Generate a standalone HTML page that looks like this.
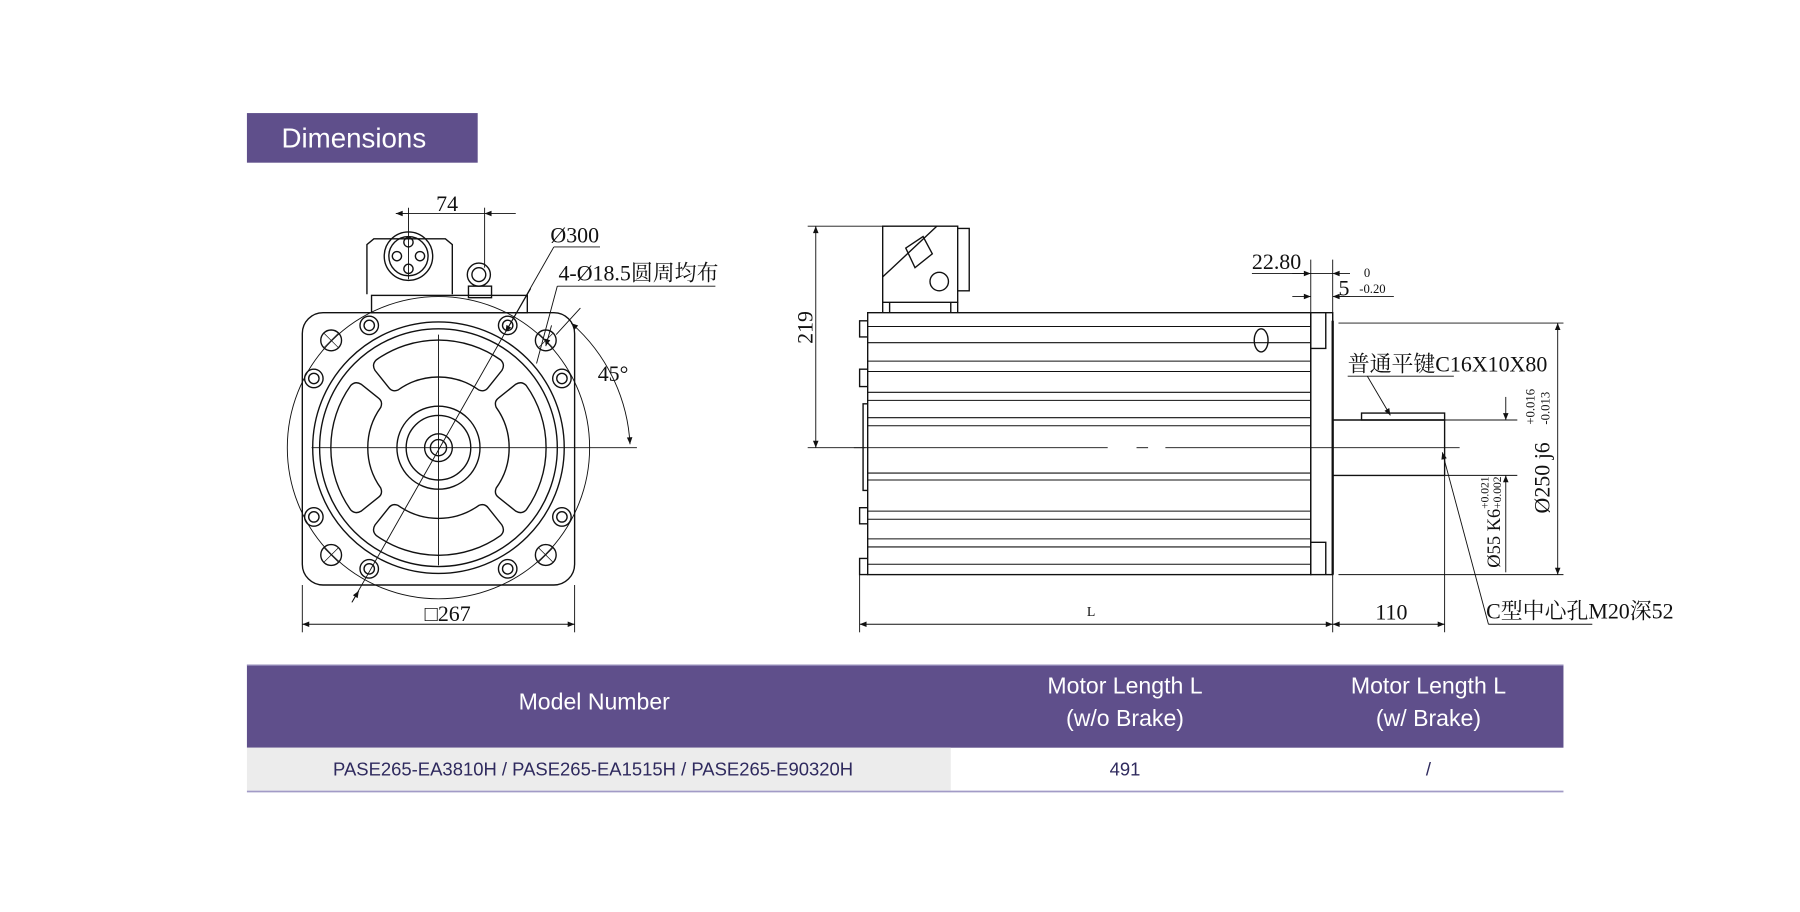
<!DOCTYPE html>
<html><head><meta charset="utf-8"><style>
html,body{margin:0;padding:0;background:#fff;}
svg{display:block;}
.t{font-family:"Liberation Serif","Noto Serif CJK SC","Noto Sans CJK SC",serif;fill:#111;}
.s{font-family:"Liberation Sans",sans-serif;}
</style></head><body>
<svg width="1800" height="912" viewBox="0 0 1560 790.4" xmlns="http://www.w3.org/2000/svg">
<defs>
<marker id="a" viewBox="0 0 10 10" refX="10" refY="5" markerWidth="9" markerHeight="6" orient="auto-start-reverse" markerUnits="userSpaceOnUse"><path d="M0,1 L10,5 L0,9 z" fill="#111"/></marker>
<path id="w" d="M-54,-76 A93,93 0 0 1 54,-76 Q58,-72 55,-67 L43,-52 Q40,-48 35,-50 A60,60 0 0 0 -35,-50 Q-40,-48 -43,-52 L-55,-67 Q-58,-72 -54,-76 Z"/>
</defs>
<rect width="1560" height="790.4" fill="#fff"/>
<rect x="214" y="98" width="200" height="43" fill="#5f4f8b"/>
<text x="244" y="128" class="s" font-size="24" fill="#fff">Dimensions</text>

<g stroke="#111" fill="none" stroke-width="1.2">
<path d="M318,255 V212 L324,207 H386 L392,212 V255"/>
<circle cx="354" cy="222" r="21"/><circle cx="354" cy="222" r="17"/>
<circle cx="354" cy="210" r="4"/><circle cx="344" cy="222" r="4"/><circle cx="364" cy="222" r="4"/><circle cx="354" cy="233" r="4"/>
<circle cx="415" cy="238" r="10"/><circle cx="415" cy="238" r="6"/>
<rect x="406" y="248" width="20" height="10"/>
<rect x="322" y="256" width="135" height="15"/>
<line x1="354" y1="180" x2="354" y2="242" stroke-width="0.8"/>
<line x1="420" y1="180" x2="420" y2="232" stroke-width="0.8"/>
<line x1="343" y1="185" x2="354" y2="185" marker-start="url(#a)" stroke-width="0.8"/>
<line x1="354" y1="185" x2="420" y2="185" stroke-width="0.8"/>
<line x1="420" y1="185" x2="447" y2="185" marker-start="url(#a)" stroke-width="0.8"/>
<rect x="262" y="271" width="236" height="236" rx="18"/>
<circle cx="380" cy="388" r="131" stroke-width="0.8"/>
<circle cx="380" cy="388" r="109"/>
<circle cx="380" cy="388" r="103"/>
<g transform="translate(380,388)">
<use href="#w"/><use href="#w" transform="rotate(90)"/><use href="#w" transform="rotate(180)"/><use href="#w" transform="rotate(270)"/>
</g>
<circle cx="380" cy="388" r="36"/><circle cx="380" cy="388" r="28"/>
<circle cx="380" cy="388" r="12"/><circle cx="380" cy="388" r="7"/>
<g>
<circle cx="320" cy="282" r="8"/><circle cx="320" cy="282" r="4.5"/>
<circle cx="440" cy="282" r="8"/><circle cx="440" cy="282" r="4.5"/>
<circle cx="272" cy="328" r="8"/><circle cx="272" cy="328" r="4.5"/>
<circle cx="487" cy="328" r="8"/><circle cx="487" cy="328" r="4.5"/>
<circle cx="272" cy="448" r="8"/><circle cx="272" cy="448" r="4.5"/>
<circle cx="487" cy="448" r="8"/><circle cx="487" cy="448" r="4.5"/>
<circle cx="320" cy="493" r="8"/><circle cx="320" cy="493" r="4.5"/>
<circle cx="440" cy="493" r="8"/><circle cx="440" cy="493" r="4.5"/>
<circle cx="287" cy="295" r="9"/><path d="M281,289 L293,301 M293,289 L281,301" stroke-width="0.6"/>
<circle cx="473" cy="295" r="9"/><path d="M467,289 L479,301 M479,289 L467,301" stroke-width="0.6"/>
<circle cx="287" cy="481" r="9"/><path d="M281,475 L293,487 M293,475 L281,487" stroke-width="0.6"/>
<circle cx="473" cy="481" r="9"/><path d="M467,475 L479,487 M479,475 L467,487" stroke-width="0.6"/>
</g>
<line x1="270" y1="388" x2="552" y2="388" stroke-width="0.8"/>
<line x1="380" y1="290" x2="380" y2="490" stroke-width="0.8"/>
<line x1="305" y1="522" x2="480" y2="214" stroke-width="0.8"/>
<line x1="311" y1="512" x2="305" y2="522" marker-start="url(#a)" stroke-width="0.8"/>
<line x1="438" y1="288" x2="460" y2="250" marker-start="url(#a)" stroke-width="0.8"/>
<line x1="480" y1="214" x2="520" y2="214" stroke-width="0.8"/>
<line x1="465" y1="315" x2="483" y2="248" stroke-width="0.8"/>
<line x1="473" y1="300" x2="478" y2="282" marker-start="url(#a)" stroke-width="0.8"/>
<line x1="483" y1="248" x2="620" y2="248" stroke-width="0.8"/>
<line x1="482" y1="290" x2="503" y2="267" stroke-width="0.8"/>
<path d="M495,280 A150,150 0 0 1 546,385" stroke-width="0.8" marker-start="url(#a)" marker-end="url(#a)"/>
<line x1="262" y1="507" x2="262" y2="548" stroke-width="0.8"/>
<line x1="498" y1="507" x2="498" y2="548" stroke-width="0.8"/>
<line x1="262" y1="541" x2="498" y2="541" stroke-width="0.8" marker-start="url(#a)" marker-end="url(#a)"/>

<line x1="700" y1="196" x2="770" y2="196" stroke-width="0.8"/>
<line x1="700" y1="388" x2="750" y2="388" stroke-width="0.8"/>
<line x1="707" y1="196" x2="707" y2="388" stroke-width="0.8" marker-start="url(#a)" marker-end="url(#a)"/>
<path d="M765,196 H830 V262 H765 Z"/>
<path d="M830,198 H840 V252 H830"/>
<path d="M765,240 L812,196 M785,215 L800,205 L808,220 L793,232 Z M765,262 V271 M830,262 V271 M771,262 V271 M824,262 V271"/>
<circle cx="814" cy="244" r="8"/>
<rect x="752" y="271" width="384" height="227"/>
<path d="M752,278 H745 V292 H752 M752,320 H745 V335 H752 M752,440 H745 V454 H752 M752,484 H745 V498 H752 M752,350 H748 V425 H752"/>
<g stroke-width="0.9">
<line x1="752" y1="283" x2="1136" y2="283"/><line x1="752" y1="297" x2="1136" y2="297"/>
<line x1="752" y1="313" x2="1136" y2="313"/><line x1="752" y1="322" x2="1136" y2="322"/>
<line x1="752" y1="340" x2="1136" y2="340"/><line x1="752" y1="347" x2="1136" y2="347"/>
<line x1="752" y1="362" x2="1136" y2="362"/><line x1="752" y1="369" x2="1136" y2="369"/>
<line x1="752" y1="410" x2="1136" y2="410"/><line x1="752" y1="416" x2="1136" y2="416"/>
<line x1="752" y1="443" x2="1136" y2="443"/><line x1="752" y1="450" x2="1136" y2="450"/>
<line x1="752" y1="467" x2="1136" y2="467"/><line x1="752" y1="474" x2="1136" y2="474"/>
<line x1="752" y1="489" x2="1136" y2="489"/>
</g>
<ellipse cx="1093" cy="295" rx="6" ry="10"/>
<rect x="1136" y="271" width="19" height="227"/>
<path d="M1136,302 H1149 V271 M1136,470 H1149 V498"/>
<line x1="1155" y1="278" x2="1155" y2="498" stroke-width="2"/>
<path d="M1155,364 H1252 V412 H1155"/>
<rect x="1180" y="358" width="72" height="6"/>
<line x1="740" y1="388" x2="960" y2="388" stroke-width="0.8"/>
<line x1="985" y1="388" x2="995" y2="388" stroke-width="0.8"/>
<line x1="1010" y1="388" x2="1265" y2="388" stroke-width="0.8"/>
<line x1="1160" y1="280" x2="1355" y2="280" stroke-width="0.8"/>
<line x1="1160" y1="498" x2="1355" y2="498" stroke-width="0.8"/>
<line x1="1350" y1="280" x2="1350" y2="498" stroke-width="0.8" marker-start="url(#a)" marker-end="url(#a)"/>
<line x1="1252" y1="364" x2="1315" y2="364" stroke-width="0.8"/>
<line x1="1252" y1="412" x2="1315" y2="412" stroke-width="0.8"/>
<line x1="1305" y1="344" x2="1305" y2="364" stroke-width="0.8" marker-end="url(#a)"/>
<line x1="1305" y1="496" x2="1305" y2="412" stroke-width="0.8" marker-end="url(#a)"/>
<line x1="1136" y1="225" x2="1136" y2="271" stroke-width="0.8"/>
<line x1="1155" y1="225" x2="1155" y2="278" stroke-width="0.8"/>
<line x1="1085" y1="237" x2="1155" y2="237" stroke-width="0.8"/>
<line x1="1120" y1="237" x2="1136" y2="237" marker-end="url(#a)" stroke-width="0.8"/>
<line x1="1170" y1="237" x2="1155" y2="237" marker-end="url(#a)" stroke-width="0.8"/>
<line x1="1120" y1="257" x2="1136" y2="257" marker-end="url(#a)" stroke-width="0.8"/>
<line x1="1170" y1="257" x2="1155" y2="257" marker-end="url(#a)" stroke-width="0.8"/>
<line x1="1155" y1="257" x2="1208" y2="257" stroke-width="0.8"/>
<line x1="1168" y1="326" x2="1260" y2="326" stroke-width="0.8"/>
<line x1="1185" y1="326" x2="1205" y2="360" marker-end="url(#a)" stroke-width="0.8"/>
<line x1="1290" y1="541" x2="1250" y2="392" marker-end="url(#a)" stroke-width="0.8"/>
<line x1="1290" y1="541" x2="1380" y2="541" stroke-width="0.8"/>
<line x1="745" y1="498" x2="745" y2="548" stroke-width="0.8"/>
<line x1="1155" y1="498" x2="1155" y2="548" stroke-width="0.8"/>
<line x1="1252" y1="412" x2="1252" y2="548" stroke-width="0.8"/>
<line x1="745" y1="541" x2="1155" y2="541" stroke-width="0.8" marker-start="url(#a)" marker-end="url(#a)"/>
<line x1="1155" y1="541" x2="1252" y2="541" stroke-width="0.8" marker-start="url(#a)" marker-end="url(#a)"/>
</g>

<g class="t">
<text x="378" y="183" font-size="19">74</text>
<text x="477" y="210" font-size="19">Ø300</text>
<text x="484" y="243" font-size="19">4-Ø18.5圆周均布</text>
<text x="518" y="330" font-size="19">45°</text>
<text x="368" y="538" font-size="19">□267</text>
<text transform="translate(704,298) rotate(-90)" font-size="19">219</text>
<text x="1085" y="233" font-size="19">22.80</text>
<text x="1160" y="256" font-size="19">5</text>
<text x="1182" y="240" font-size="11">0</text>
<text x="1178" y="254" font-size="11">-0.20</text>
<text x="1168" y="322" font-size="19">普通平键C16X10X80</text>
<text transform="translate(1343,445) rotate(-90)" font-size="19">Ø250  j6</text>
<text transform="translate(1330,368) rotate(-90)" font-size="11">+0.016</text>
<text transform="translate(1343,368) rotate(-90)" font-size="11">-0.013</text>
<text transform="translate(1300,492) rotate(-90)" font-size="16">Ø55  K6</text>
<text transform="translate(1290,441) rotate(-90)" font-size="10">+0.021</text>
<text transform="translate(1301,441) rotate(-90)" font-size="10">+0.002</text>
<text x="942" y="534" font-size="12">L</text>
<text x="1192" y="537" font-size="19">110</text>
<text x="1288" y="536" font-size="19">C型中心孔M20深52</text>
</g>

<rect x="214" y="576" width="1141" height="72" fill="#5f4f8b"/>
<line x1="214" y1="576.5" x2="1355" y2="576.5" stroke="#9b93c0" stroke-width="1"/>
<rect x="214" y="648" width="610" height="37" fill="#ececec"/>
<line x1="214" y1="686" x2="1355" y2="686" stroke="#a29bc6" stroke-width="1.5"/>
<g class="s" fill="#fff" font-size="20" text-anchor="middle">
<text x="515" y="615">Model Number</text>
<text x="975" y="601">Motor Length L</text>
<text x="975" y="629">(w/o Brake)</text>
<text x="1238" y="601">Motor Length L</text>
<text x="1238" y="629">(w/ Brake)</text>
</g>
<g class="s" fill="#2f2a5e" font-size="16" text-anchor="middle">
<text x="514" y="672">PASE265-EA3810H / PASE265-EA1515H / PASE265-E90320H</text>
<text x="975" y="672">491</text>
<text x="1238" y="672">/</text>
</g>
</svg>
</body></html>
